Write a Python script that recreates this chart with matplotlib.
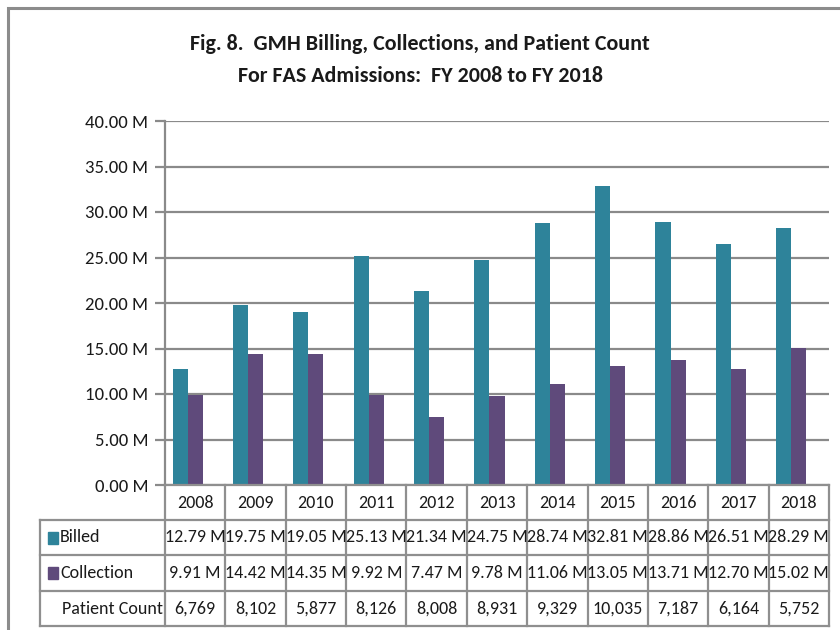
import matplotlib
matplotlib.use("Agg")
import matplotlib.pyplot as plt
from matplotlib.transforms import blended_transform_factory
from matplotlib.patches import Rectangle
from matplotlib.lines import Line2D
import numpy as np

years = ["2008", "2009", "2010", "2011", "2012", "2013", "2014", "2015", "2016", "2017", "2018"]
billed = [12.79, 19.75, 19.05, 25.13, 21.34, 24.75, 28.74, 32.81, 28.86, 26.51, 28.29]
collection = [9.91, 14.42, 14.35, 9.92, 7.47, 9.78, 11.06, 13.05, 13.71, 12.70, 15.02]
patients = [6769, 8102, 5877, 8126, 8008, 8931, 9329, 10035, 7187, 6164, 5752]
series_names = ["Billed", "Collection", "Patient Count"]
title = "Fig. 8.  GMH Billing, Collections, and Patient Count\nFor FAS Admissions:  FY 2008 to FY 2018"

FONT = ["Carlito", "DejaVu Sans"]
plt.rcParams["font.family"] = FONT
TEAL = "#2E839A"
PURPLE = "#5F4A7B"
GRID = "#8A8A8A"
W, H = 840, 630

def fx(px):
    return px / W

def fy(py):
    return 1 - py / H

fig = plt.figure(figsize=(8.4, 6.3), dpi=100)
fig.patch.set_facecolor("white")

# outer frame
fig.add_artist(Rectangle((fx(8), fy(700)), 2.0, fy(8) - fy(700), transform=fig.transFigure,
                         fill=False, edgecolor="#8C8C8C", linewidth=2.2))

left, right, top, bottom = 165, 829, 121, 485
ax = fig.add_axes([fx(left), fy(bottom), fx(right) - fx(left), fy(top) - fy(bottom)])
x = np.arange(len(years))
bw = 0.25
ax.bar(x - bw, billed, width=bw, color=TEAL, zorder=3)
ax.bar(x, collection, width=bw, color=PURPLE, zorder=3)
ax.bar(x + bw, [p / 1e6 for p in patients], width=bw, color="#C0C0C0", zorder=3)
ax.set_xlim(-0.5, len(years) - 0.5)
ax.set_ylim(0, 40)
yt = np.arange(0, 41, 5)
ax.set_yticks(yt)
ax.set_yticklabels([f"{v:.2f} M" for v in yt], fontsize=13.5)
ax.set_xticks([])
ax.yaxis.grid(True, color=GRID, linewidth=1.6, zorder=0)
ax.set_axisbelow(True)
for s in ["top", "right", "bottom"]:
    ax.spines[s].set_visible(False)
ax.spines["left"].set_color(GRID)
ax.spines["left"].set_linewidth(1.6)
ax.tick_params(axis="y", length=7, width=1.6, color=GRID, pad=5, labelcolor="#1a1a1a")

# data table
tb = blended_transform_factory(ax.transData, fig.transFigure)
rows_y = [485, 520, 555, 591, 626]
lc = "#8F8F8F"
lw = 1.6
fig.add_artist(Line2D([fx(left), fx(right)], [fy(rows_y[0])] * 2, transform=fig.transFigure, color=lc, lw=lw))
for ry in rows_y[1:]:
    fig.add_artist(Line2D([fx(40), fx(right)], [fy(ry)] * 2, transform=fig.transFigure, color=lc, lw=lw))
for i in range(len(years) + 1):
    fig.add_artist(Line2D([i - 0.5, i - 0.5], [fy(rows_y[0]), fy(rows_y[-1])], transform=tb, color=lc, lw=lw))
fig.add_artist(Line2D([fx(40), fx(40)], [fy(rows_y[1]), fy(rows_y[-1])], transform=fig.transFigure, color=lc, lw=lw))

fs = 13
row_texts = [years,
             [f"{v:.2f} M" for v in billed],
             [f"{v:.2f} M" for v in collection],
             [f"{v:,}" for v in patients]]
for r, texts in enumerate(row_texts):
    yc = (rows_y[r] + rows_y[r + 1]) / 2
    for i, t in enumerate(texts):
        fig.text(i, fy(yc), t, transform=tb, ha="center", va="center", fontsize=fs, color="#1a1a1a")

for r, (name, col) in enumerate(zip(series_names, [TEAL, PURPLE, None])):
    yc = (rows_y[r + 1] + rows_y[r + 2]) / 2
    if col is not None:
        fig.add_artist(Rectangle((fx(48), fy(yc + 6)), fx(10), fy(yc - 6) - fy(yc + 6),
                                 transform=fig.transFigure, color=col))
        fig.text(fx(60), fy(yc), name, ha="left", va="center", fontsize=fs, color="#1a1a1a")
    else:
        fig.text(fx(62), fy(yc), name, ha="left", va="center", fontsize=fs, color="#1a1a1a")

fig.text(0.5, fy(60), title, ha="center", va="center", fontsize=15.8, fontweight="bold",
         linespacing=1.7, color="#1a1a1a")

fig.savefig("out.png", dpi=100)
